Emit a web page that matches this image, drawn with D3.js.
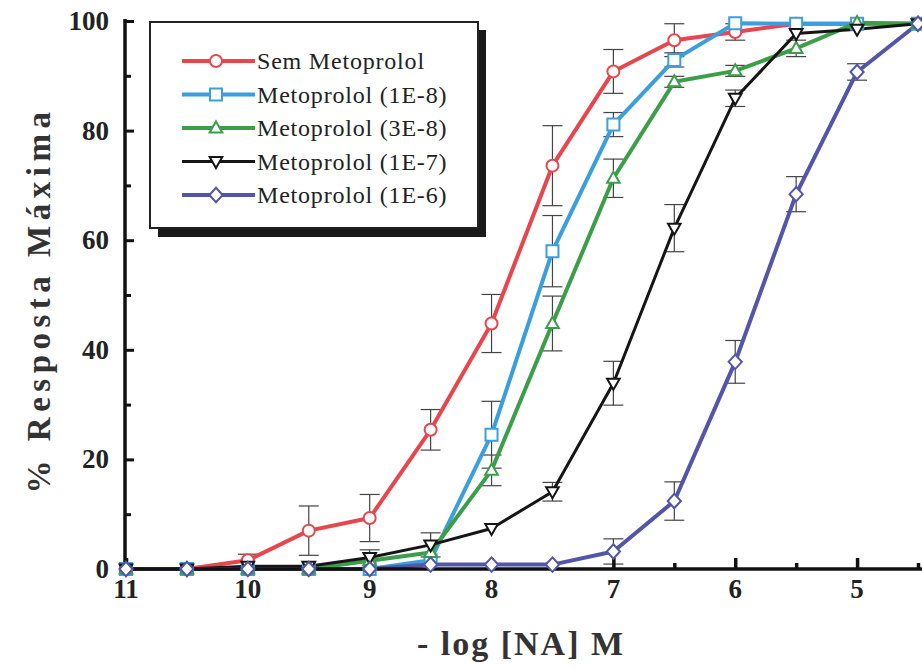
<!DOCTYPE html>
<html>
<head>
<meta charset="utf-8">
<script src="https://cdn.jsdelivr.net/npm/d3@7"></script>
<style>
  html, body { margin: 0; padding: 0; background: #fff; }
  svg { display: block; }
  .serif { font-family: "Liberation Serif", "DejaVu Serif", serif; }
</style>
</head>
<body>
<svg id="chart" width="922" height="669"></svg>
<script>
// ---- data ----
const xValues = [11, 10.5, 10, 9.5, 9, 8.5, 8, 7.5, 7, 6.5, 6, 5.5, 5, 4.5];
const seriesNames = ["Sem Metoprolol", "Metoprolol (1E-8)", "Metoprolol (3E-8)", "Metoprolol (1E-7)", "Metoprolol (1E-6)"];
const semMetoprolol = [0, 0, 1.6, 7, 9.3, 25.4, 44.8, 73.6, 90.8, 96.5, 98, 99.5, 99.5, 99.5];
const semMetoprololErr = [0, 0, 1.1, 4.5, 4.3, 3.7, 5.3, 7.3, 4, 3, 1.5, 0, 0, 0];
const meto1e8 = [0, 0, 0, 0, 0, 1.6, 24.5, 58, 81.1, 92.9, 99.6, 99.5, 99.5, 99.5];
const meto1e8Err = [0, 0, 0, 0, 0, 0, 6.1, 6.5, 2.2, 1.3, 0, 0, 0, 0];
const meto3e8 = [0, 0, 0, 0, 1.5, 3, 18, 44.8, 71.3, 88.9, 90.9, 95, 99.7, 99.5];
const meto3e8Err = [0, 0, 0, 0, 2, 0, 2.8, 5, 3.5, 1, 1, 1.5, 0, 0];
const meto1e7 = [0, 0, 0.5, 0.5, 2.1, 4.4, 7.4, 14.1, 33.9, 62.2, 85.9, 97.7, 98.5, 99.5];
const meto1e7Err = [0, 0, 0, 0, 0, 2.2, 0, 1.7, 4, 4.3, 1.5, 0, 0, 0];
const meto1e6 = [0, 0, 0, 0, 0, 0.8, 0.8, 0.8, 3.2, 12.4, 37.8, 68.4, 90.7, 99.5];
const meto1e6Err = [0, 0, 0, 0, 0, 0, 0, 0, 2.3, 3.5, 3.9, 3.2, 1.5, 0];
const yTicks = [0, 20, 40, 60, 80, 100];
const yMinorTicks = [10, 30, 50, 70, 90];
const xTicks = [11, 10, 9, 8, 7, 6, 5];
const xMinorTicks = [10.5, 9.5, 8.5, 7.5, 6.5, 5.5, 4.5];
const xTitle = "- log [NA] M";
const yTitle = "% Resposta Máxima";

const seriesValues = [semMetoprolol, meto1e8, meto3e8, meto1e7, meto1e6];
const seriesErrors = [semMetoprololErr, meto1e8Err, meto3e8Err, meto1e7Err, meto1e6Err];
const colors = ["#e8464e", "#3a9fdc", "#3c9e48", "#151515", "#5355a6"];
const widths = [4, 4, 4, 3, 4];
const shapes = ["circle", "square", "triangle", "triangleDown", "diamond"];

const svg = d3.select("#chart");
const x = d3.scaleLinear().domain([11, 4.5]).range([126, 918]);
const y = d3.scaleLinear().domain([0, 100]).range([569, 21]);

function symbolPath(shape, r) {
  switch (shape) {
    case "circle": return `M${-r},0A${r},${r} 0 1,0 ${r},0A${r},${r} 0 1,0 ${-r},0Z`;
    case "square": return `M${-r},${-r}H${r}V${r}H${-r}Z`;
    case "triangle": return `M0,${-r*1.1}L${r*1.05},${r*0.75}L${-r*1.05},${r*0.75}Z`;
    case "triangleDown": return `M0,${r*1.1}L${r*1.05},${-r*0.75}L${-r*1.05},${-r*0.75}Z`;
    case "diamond": return `M0,${-r*1.2}L${r*1.1},0L0,${r*1.2}L${-r*1.1},0Z`;
  }
}

// ---- error bars ----
const errG = svg.append("g");
seriesValues.forEach((vals, si) => {
  vals.forEach((v, i) => {
    const e = seriesErrors[si][i];
    if (!e) return;
    const cx = x(xValues[i]);
    errG.append("line").attr("x1", cx).attr("x2", cx)
      .attr("y1", y(v + e)).attr("y2", y(Math.max(0, v - e)))
      .attr("stroke", "#444").attr("stroke-width", 1.2);
    [v + e, v - e].forEach(t => {
      if (t < 0) return;
      errG.append("line").attr("x1", cx - 10).attr("x2", cx + 10)
        .attr("y1", y(t)).attr("y2", y(t))
        .attr("stroke", "#444").attr("stroke-width", 1.2);
    });
  });
});

// ---- lines ----
const line = d3.line().x((d, i) => x(xValues[i])).y(d => y(d));
const lineG = svg.append("g");
seriesValues.forEach((vals, si) => {
  lineG.append("path").attr("d", line(vals))
    .attr("fill", "none").attr("stroke", colors[si])
    .attr("stroke-width", widths[si]).attr("stroke-linejoin", "round");
});

// ---- axes ----
const axG = svg.append("g");
const yAxis = d3.axisRight(y).tickValues(yTicks).tickSize(9).tickFormat("");
const yg = axG.append("g").attr("transform", "translate(125,0)").call(yAxis);
yg.select(".domain").remove();
yg.selectAll(".tick line").attr("stroke", "#111").attr("stroke-width", 3);
const yAxisMinor = d3.axisRight(y).tickValues(yMinorTicks).tickSize(6).tickFormat("");
const ygm = axG.append("g").attr("transform", "translate(125,0)").call(yAxisMinor);
ygm.select(".domain").remove();
ygm.selectAll(".tick line").attr("stroke", "#111").attr("stroke-width", 3);
axG.append("line").attr("x1", 125).attr("x2", 125).attr("y1", y(100) - 2).attr("y2", y(0) + 1.5)
  .attr("stroke", "#111").attr("stroke-width", 3.5);
axG.selectAll(".ylab").data(yTicks).enter().append("text")
  .attr("class", "serif")
  .attr("x", 109).attr("y", d => y(d) + 9)
  .attr("text-anchor", "end")
  .attr("font-weight", "bold").attr("font-size", 27)
  .attr("fill", "#222").text(d => d);

const xAxis = d3.axisTop(x).tickValues(xTicks).tickSize(11).tickFormat("");
const xg = axG.append("g").attr("transform", `translate(0,${y(0)})`).call(xAxis);
xg.select(".domain").remove();
xg.selectAll(".tick line").attr("stroke", "#111").attr("stroke-width", 3.5);
const xAxisMinor = d3.axisTop(x).tickValues(xMinorTicks).tickSize(6).tickFormat("");
const xgm = axG.append("g").attr("transform", `translate(0,${y(0)})`).call(xAxisMinor);
xgm.select(".domain").remove();
xgm.selectAll(".tick line").attr("stroke", "#111").attr("stroke-width", 3.5);
axG.append("line").attr("x1", 123.5).attr("x2", 922).attr("y1", y(0)).attr("y2", y(0))
  .attr("stroke", "#111").attr("stroke-width", 3.5);
axG.selectAll(".xlab").data(xTicks).enter().append("text")
  .attr("class", "serif")
  .attr("x", d => x(d)).attr("y", 598)
  .attr("text-anchor", "middle")
  .attr("font-weight", "bold").attr("font-size", 27)
  .attr("fill", "#222").text(d => d);

svg.append("text").attr("class", "serif").attr("x", 521).attr("y", 655)
  .attr("text-anchor", "middle")
  .attr("font-weight", "bold").attr("font-size", 34)
  .attr("letter-spacing", 2)
  .attr("fill", "#333").text(xTitle);
svg.append("text").attr("class", "serif")
  .attr("transform", "translate(50,300) rotate(-90)")
  .attr("text-anchor", "middle")
  .attr("font-weight", "bold").attr("font-size", 33)
  .attr("letter-spacing", 5.5)
  .attr("fill", "#333").text(yTitle);

// ---- markers ----
const mkG = svg.append("g");
seriesValues.forEach((vals, si) => {
  vals.forEach((v, i) => {
    mkG.append("path")
      .attr("d", symbolPath(shapes[si], 6))
      .attr("transform", `translate(${x(xValues[i])},${y(v)})`)
      .attr("fill", "#fff").attr("stroke", colors[si]).attr("stroke-width", 2);
  });
});

// ---- legend ----
const lg = svg.append("g");
lg.append("rect").attr("x", 158).attr("y", 30).attr("width", 328).attr("height", 207).attr("fill", "#1a1a1a");
lg.append("rect").attr("x", 150).attr("y", 22).attr("width", 328).attr("height", 206)
  .attr("fill", "#fff").attr("stroke", "#222").attr("stroke-width", 2);
seriesNames.forEach((name, si) => {
  const ly = 61 + si * 33.5;
  lg.append("line").attr("x1", 182).attr("x2", 255).attr("y1", ly).attr("y2", ly)
    .attr("stroke", colors[si]).attr("stroke-width", widths[si]);
  lg.append("path").attr("d", symbolPath(shapes[si], 6))
    .attr("transform", `translate(216,${ly})`)
    .attr("fill", "#fff").attr("stroke", colors[si]).attr("stroke-width", 2);
  lg.append("text").attr("class", "serif").attr("x", 257).attr("y", ly + 8)
    .attr("font-size", 24).attr("letter-spacing", 0.8).attr("fill", "#222")
    .text(name);
});
</script>
</body>
</html>
